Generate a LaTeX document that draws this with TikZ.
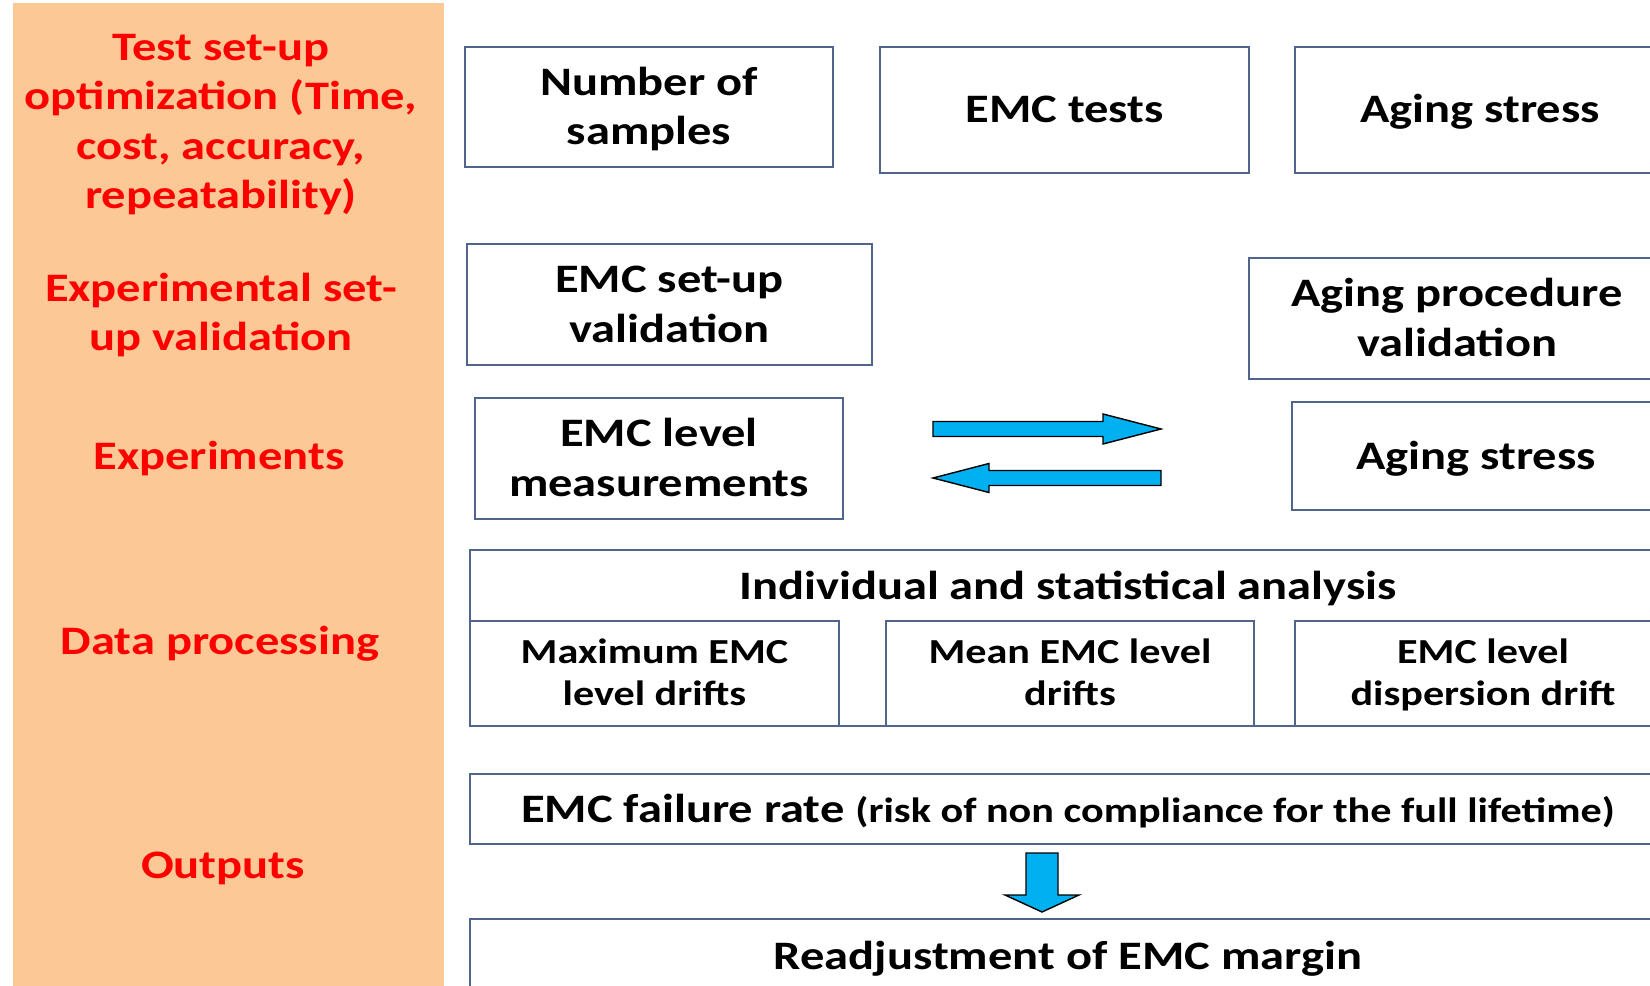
\documentclass[tikz,border=0pt]{standalone}
\usepackage{fontspec}
\setmainfont{Carlito}[FakeStretch=1.2]
\usetikzlibrary{calc}

\definecolor{panelpeach}{RGB}{252,200,150}
\definecolor{boxline}{RGB}{80,100,140}
\definecolor{arrowcyan}{RGB}{0,176,240}

% struts so every box line sits at the same height
\newcommand{\bigline}{\rule[-5.2pt]{0pt}{25.2pt}}
\newcommand{\smallline}{\rule[-4.1pt]{0pt}{21.1pt}}

\begin{document}
\begin{tikzpicture}[x=0.02cm, y=-0.02cm, % one unit is one pixel, y runs downwards
    box/.style={draw=boxline, line width=1.1pt, fill=white, align=center, inner sep=0pt,
        font=\fontsize{23}{28}\selectfont\bfseries},
    smallbox/.style={box, font=\fontsize{20}{24}\selectfont\bfseries},
    stage/.style={text=red, align=center, yshift=-1.5pt, font=\fontsize{23}{28}\selectfont\bfseries},
    blockarrow/.style={draw=black, line width=0.8pt, fill=arrowcyan, line join=miter}]
    % Page frame
    \useasboundingbox (0,0) rectangle (1650,986);
    \clip (0,0) rectangle (1650,986);
    \fill[white] (0,0) rectangle (1650,986);

    % Stage column on the left
    \fill[panelpeach] (13,3) rectangle (444,995);
    \node[stage] (optim) at (221,122) {Test set-up\\optimization (Time,\\cost, accuracy,\\repeatability)};
    \node[stage] (expval) at (221,312) {Experimental set-\\up validation};
    \node[stage] (experiments) at (219,456) {Experiments};
    \node[stage] (dataproc) at (220,641) {Data processing};
    \node[stage] (outputs) at (223,866) {Outputs};

    % Test set-up optimization row
    \node[box, minimum width=7.36cm, minimum height=2.4cm] (samples) at (649,107) {\bigline Number of\\samples\bigline};
    \node[box, minimum width=7.38cm, minimum height=2.52cm] (emctests) at (1064.5,110) {\bigline EMC tests};
    \node[box, minimum width=7.4cm, minimum height=2.52cm] (stress) at (1480,110) {\bigline Aging stress};

    % Validation row
    \node[box, minimum width=8.1cm, minimum height=2.42cm] (setupval) at (669.5,304.5) {\bigline EMC set-up\\validation\bigline};
    \node[box, minimum width=8.32cm, minimum height=2.42cm] (agingval) at (1457,318.5) {\bigline Aging procedure\\validation\bigline};

    % Experiments row
    \node[box, minimum width=7.36cm, minimum height=2.42cm] (levels) at (659,458.5) {\bigline EMC level\\measurements\bigline};
    \node[box, minimum width=7.36cm, minimum height=2.16cm] (stress2) at (1476,456) {\bigline Aging stress};

    % Measurement / aging loop
    \coordinate (fwdtail) at (933,429);
    \coordinate (fwdtip) at (1161,429);
    \coordinate (backtail) at (1161,478);
    \coordinate (backtip) at (933,478);
    \draw[blockarrow] ($(fwdtail)+(0,-7.5)$) -- ++(170,0) -- ++(0,-7.5) -- (fwdtip)
        -- ++(-58,15) -- ++(0,-7.5) -- ++(-170,0) -- cycle;
    \draw[blockarrow] ($(backtail)+(0,-7.5)$) -- ++(-172,0) -- ++(0,-7) -- (backtip)
        -- ++(56,14.5) -- ++(0,-7) -- ++(172,0) -- cycle;

    % Data processing block
    \node[box, minimum width=23.92cm, minimum height=3.52cm] (analysis) at (1068,638) {};
    \node[font=\fontsize{23}{28}\selectfont\bfseries, yshift=-1.5pt] (analysistitle) at (1068,586) {Individual and statistical analysis};
    \node[smallbox, minimum width=7.38cm, minimum height=2.1cm] (maxdrift) at (654.5,673.5) {\smallline Maximum EMC\\level drifts\smallline};
    \node[smallbox, minimum width=7.36cm, minimum height=2.1cm] (meandrift) at (1070,673.5) {\smallline Mean EMC level\\drifts\smallline};
    \node[smallbox, minimum width=7.52cm, minimum height=2.1cm] (dispdrift) at (1483,673.5) {\smallline EMC level\\dispersion drift\smallline};

    % Outputs
    \node[box, minimum width=23.92cm, minimum height=1.4cm] (failrate) at (1068,809)
        {\bigline EMC failure rate {\fontsize{20}{24}\selectfont(risk of non compliance for the full lifetime)}};
    \node[box, minimum width=23.92cm, minimum height=1.48cm] (readjust) at (1068,956) {\bigline Readjustment of EMC margin};

    \coordinate (downtail) at (1042,853);
    \coordinate (downtip) at (1042,912);
    \draw[blockarrow] ($(downtail)+(-16,0)$) -- ++(0,42) -- ++(-21,0) -- (downtip)
        -- ++(37,-17) -- ++(-21,0) -- ++(0,-42) -- cycle;
\end{tikzpicture}
\end{document}
